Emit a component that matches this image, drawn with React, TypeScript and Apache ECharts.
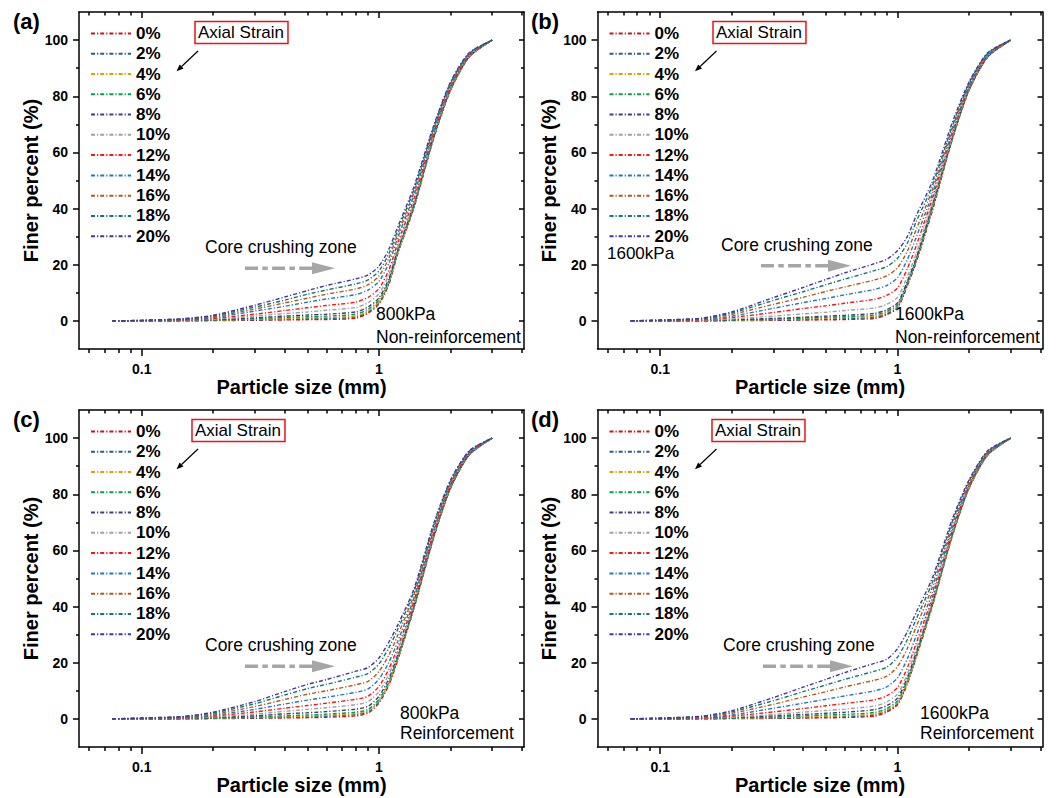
import { useEffect, useRef } from 'react';
import * as echarts from 'echarts';

const FONT = "'Liberation Sans', Arial, sans-serif";

// Particle sizes (mm) at which finer percent is read
const SIZES_MM = [0.075, 0.1, 0.15, 0.2, 0.3, 0.4, 0.5, 0.6, 0.8, 0.9, 1.0, 1.1, 1.2, 1.4, 1.7, 2.0, 2.4, 3.0];

const STRAINS = ['0%', '2%', '4%', '6%', '8%', '10%', '12%', '14%', '16%', '18%', '20%'];
const COLORS = ['#c8141c', '#2a5d8a', '#dca000', '#00a04e', '#3f3f75', '#a0a0a0', '#ff1414', '#1a7cc0', '#b45a16', '#0c7a72', '#4634a4'];

// (a) 800kPa Non-reinforcement
const PANEL_A: number[][] = [
  [0, 0, 0.05, 0.1, 0.25, 0.35, 0.45, 0.5, 1.0, 2.8, 6.0, 13, 24, 40, 65, 82, 94, 100],
  [0, 0, 0.1, 0.2, 0.4, 0.6, 0.8, 0.9, 1.4, 3.2, 6.4, 13.4, 24.3, 40.2, 65.1, 82.1, 94, 100],
  [0, 0, 0.1, 0.2, 0.6, 0.8, 1.1, 1.2, 1.8, 3.6, 6.8, 13.8, 24.6, 40.5, 65.3, 82.2, 94.1, 100],
  [0, 0, 0.1, 0.3, 0.8, 1.2, 1.5, 1.7, 2.4, 4.2, 7.4, 14.3, 25, 40.8, 65.5, 82.3, 94.2, 100],
  [0, 0, 0.2, 0.4, 1.1, 1.7, 2.1, 2.4, 3.2, 5.0, 8.2, 15, 25.5, 41.2, 65.7, 82.5, 94.2, 100],
  [0, 0.1, 0.3, 0.6, 1.7, 2.6, 3.2, 3.8, 4.8, 6.5, 9.7, 16.4, 26.6, 42, 66.2, 82.8, 94.4, 100],
  [0, 0.1, 0.4, 0.9, 2.4, 3.7, 4.7, 5.5, 6.7, 8.4, 11.5, 18.1, 27.9, 43.1, 66.9, 83.2, 94.6, 100],
  [0, 0.1, 0.5, 1.2, 3.5, 5.2, 6.7, 7.8, 9.4, 11, 14.1, 20.5, 29.7, 44.5, 67.7, 83.8, 94.9, 100],
  [0, 0.2, 0.6, 1.5, 4.2, 6.4, 8.1, 9.5, 11.4, 12.9, 16, 22.3, 31, 45.6, 68.3, 84.2, 95.1, 100],
  [0, 0.2, 0.7, 1.8, 4.9, 7.4, 9.5, 11, 13.2, 14.6, 17.8, 23.9, 32.3, 46.5, 68.9, 84.6, 95.3, 100],
  [0, 0.2, 0.8, 2.0, 5.6, 8.5, 10.8, 12.6, 15.0, 16.4, 19.5, 25.5, 33.5, 47.5, 69.5, 85, 95.5, 100],
];

// (b) 1600kPa Non-reinforcement
const PANEL_B: number[][] = [
  [0, 0, 0.05, 0.1, 0.2, 0.3, 0.4, 0.5, 0.9, 2.2, 4.5, 12.5, 21, 39, 64.5, 82, 94, 100],
  [0, 0, 0.1, 0.2, 0.4, 0.5, 0.7, 0.8, 1.3, 2.6, 4.9, 12.9, 21.3, 39.5, 64.6, 82.1, 94, 100],
  [0, 0, 0.1, 0.2, 0.5, 0.8, 1.0, 1.2, 1.7, 3.0, 5.3, 13.2, 21.7, 40, 64.7, 82.1, 94.1, 100],
  [0, 0, 0.1, 0.3, 0.7, 1.0, 1.3, 1.5, 2.1, 3.4, 5.7, 13.6, 22, 40.5, 64.8, 82.2, 94.1, 100],
  [0, 0, 0.1, 0.4, 0.9, 1.3, 1.7, 2.0, 2.7, 4.0, 6.4, 14.1, 22.5, 41, 65, 82.3, 94.1, 100],
  [0, 0.1, 0.2, 0.7, 1.7, 2.5, 3.1, 3.7, 4.6, 5.9, 8.4, 15.8, 24.1, 42, 65.6, 82.6, 94.3, 100],
  [0, 0.1, 0.4, 1.2, 3.0, 4.4, 5.4, 6.3, 7.7, 9.1, 11.7, 18.6, 26.8, 43.5, 66.4, 83, 94.5, 100],
  [0, 0.2, 0.6, 1.7, 4.5, 6.5, 8.0, 9.3, 11.2, 12.6, 15.4, 21.8, 29.8, 45, 67.4, 83.6, 94.8, 100],
  [0, 0.2, 0.7, 2.3, 5.9, 8.4, 10.5, 12.1, 14.6, 16, 18.9, 24.8, 32.6, 46.5, 68.4, 84.1, 95.1, 100],
  [0, 0.3, 0.9, 2.8, 7.3, 10.4, 12.9, 14.9, 17.9, 19.3, 22.3, 27.7, 35.4, 48, 69.3, 84.6, 95.3, 100],
  [0, 0.3, 1.0, 3.2, 8.3, 11.9, 14.8, 17.1, 20.4, 21.9, 25, 30, 37.5, 49.5, 70.5, 85, 95.5, 100],
];

// (c) 800kPa Reinforcement
const PANEL_C: number[][] = [
  [0, 0, 0.05, 0.1, 0.25, 0.35, 0.45, 0.6, 1.1, 2.1, 5.7, 12, 21, 39, 64.5, 82, 94, 100],
  [0, 0, 0.1, 0.2, 0.4, 0.6, 0.8, 1.0, 1.6, 2.6, 6.2, 12.5, 21.4, 39.2, 64.7, 82.1, 94, 100],
  [0, 0, 0.1, 0.2, 0.6, 0.8, 1.0, 1.3, 1.9, 2.9, 6.5, 12.8, 21.6, 39.4, 64.8, 82.2, 94.1, 100],
  [0, 0, 0.1, 0.3, 0.7, 1.1, 1.4, 1.7, 2.4, 3.4, 7.0, 13.2, 22, 39.6, 64.9, 82.2, 94.1, 100],
  [0, 0, 0.2, 0.5, 1.1, 1.8, 2.2, 2.6, 3.5, 4.5, 8.1, 14.3, 22.9, 40.1, 65.3, 82.5, 94.2, 100],
  [0, 0.1, 0.3, 0.7, 1.7, 2.7, 3.4, 4.0, 5.1, 6.2, 9.7, 15.8, 24.1, 40.8, 65.8, 82.8, 94.4, 100],
  [0, 0.1, 0.4, 1.0, 2.5, 3.8, 4.8, 5.6, 7.0, 8.1, 11.6, 17.7, 25.6, 41.6, 66.4, 83.1, 94.6, 100],
  [0, 0.2, 0.5, 1.3, 3.4, 5.3, 6.7, 7.7, 9.5, 10.7, 14.2, 20.1, 27.6, 42.7, 67.2, 83.6, 94.8, 100],
  [0, 0.2, 0.7, 1.7, 4.4, 6.9, 8.8, 10, 12.2, 13.4, 16.9, 22.7, 29.8, 43.9, 68, 84.1, 95.1, 100],
  [0, 0.3, 0.8, 2.1, 5.4, 8.5, 10.8, 12.3, 14.9, 16.2, 19.6, 25.3, 31.9, 45.1, 68.9, 84.6, 95.3, 100],
  [0, 0.3, 0.9, 2.4, 6.2, 9.7, 12.3, 14.0, 17.0, 18.3, 21.7, 27.3, 33.5, 46, 69.5, 85, 95.5, 100],
];

// (d) 1600kPa Reinforcement
const PANEL_D: number[][] = [
  [0, 0, 0.05, 0.1, 0.2, 0.3, 0.4, 0.5, 1.0, 2.4, 5.0, 12.5, 22, 40, 65, 82, 94, 100],
  [0, 0, 0.1, 0.2, 0.4, 0.5, 0.7, 0.8, 1.4, 2.8, 5.4, 12.9, 22.3, 40.2, 65.1, 82.1, 94, 100],
  [0, 0, 0.1, 0.2, 0.5, 0.7, 1.0, 1.1, 1.8, 3.2, 5.8, 13.2, 22.6, 40.4, 65.2, 82.1, 94.1, 100],
  [0, 0, 0.1, 0.3, 0.7, 1.1, 1.4, 1.6, 2.3, 3.7, 6.4, 13.8, 23.1, 40.7, 65.4, 82.2, 94.1, 100],
  [0, 0, 0.2, 0.4, 1.1, 1.6, 2.0, 2.4, 3.3, 4.7, 7.4, 14.7, 23.9, 41.2, 65.7, 82.4, 94.2, 100],
  [0, 0.1, 0.2, 0.6, 1.6, 2.4, 3.0, 3.5, 4.6, 6.0, 8.8, 16, 25, 41.9, 66.1, 82.6, 94.3, 100],
  [0, 0.1, 0.3, 1.0, 2.5, 3.7, 4.7, 5.5, 6.8, 8.2, 11.2, 18.2, 27, 43.1, 66.9, 82.9, 94.5, 100],
  [0, 0.1, 0.5, 1.4, 3.8, 5.6, 7.0, 8.2, 10, 11.4, 14.6, 21.4, 29.7, 44.8, 67.9, 83.4, 94.7, 100],
  [0, 0.2, 0.7, 2.0, 5.2, 7.8, 9.7, 11.4, 13.8, 15.2, 18.6, 25.1, 32.9, 46.8, 69.1, 84, 95, 100],
  [0, 0.3, 0.9, 2.5, 6.5, 9.7, 12.1, 14.1, 17, 18.4, 22, 28.2, 35.6, 48.5, 70.1, 84.6, 95.3, 100],
  [0, 0.3, 1.0, 2.9, 7.6, 11.3, 14.1, 16.5, 19.8, 21.2, 25, 31, 38, 50, 71, 85, 95.5, 100],
];

const PANELS = [PANEL_A, PANEL_B, PANEL_C, PANEL_D];
const PANEL_TAGS = ['(a)', '(b)', '(c)', '(d)'];
const PRESSURES = ['800kPa', '1600kPa', '800kPa', '1600kPa'];
const CONDITIONS = ['Non-reinforcement', 'Non-reinforcement', 'Reinforcement', 'Reinforcement'];

const X_MIN_MM = 0.0544;
const X_MAX_MM = 4.085;
const X_MAJOR_MM = [0.1, 1];
const X_MINOR_MM = [0.06, 0.07, 0.08, 0.09, 0.2, 0.3, 0.4, 0.5, 0.6, 0.7, 0.8, 0.9, 2, 3, 4];
const Y_MAJOR = [0, 20, 40, 60, 80, 100];
const Y_MINOR = [10, 30, 50, 70, 90];

// layout
const OFFSETS = [[0, 0], [518.5, 0], [0, 398], [518.5, 398]];
const GRID_W = 445;
const GRID_H = 337;

const lg = (v: number) => Math.log10(v);

function buildOption() {
  const grid: any[] = [];
  const xAxis: any[] = [];
  const yAxis: any[] = [];
  const series: any[] = [];
  const legend: any[] = [];
  const graphic: any[] = [];

  const lineStyle = { color: '#000', width: 1.5 };
  const xBase = { type: 'value', min: lg(X_MIN_MM), max: lg(X_MAX_MM), splitLine: { show: false } };
  const yBase = { type: 'value', min: -10, max: 110, splitLine: { show: false } };

  PANELS.forEach((rows, p) => {
    const [ox, oy] = OFFSETS[p];
    grid.push({ left: 79 + ox, top: 12 + oy, width: GRID_W, height: GRID_H, containLabel: false });
    const xi = xAxis.length;
    const yi = yAxis.length;
    xAxis.push(
      {
        ...xBase, gridIndex: p, position: 'bottom',
        axisLine: { show: true, onZero: false, lineStyle },
        axisTick: { show: true, customValues: X_MAJOR_MM.map(lg), length: 7, lineStyle },
        axisLabel: {
          customValues: X_MAJOR_MM.map(lg), margin: 13, color: '#000', fontFamily: FONT, fontSize: 14, fontWeight: 'bold',
          formatter: (v: number) => String(Number(Math.pow(10, v).toPrecision(3))),
        },
        name: 'Particle size (mm)', nameLocation: 'middle', nameGap: 27,
        nameTextStyle: { color: '#000', fontFamily: FONT, fontSize: 20, fontWeight: 'bold' },
      },
      {
        ...xBase, gridIndex: p, position: 'bottom',
        axisLine: { show: false, onZero: false },
        axisTick: { show: true, customValues: X_MINOR_MM.map(lg), length: 4, lineStyle },
        axisLabel: { show: false },
      },
      {
        ...xBase, gridIndex: p, position: 'top',
        axisLine: { show: true, onZero: false, lineStyle },
        axisTick: { show: true, inside: true, customValues: X_MAJOR_MM.map(lg), length: 6, lineStyle },
        axisLabel: { show: false },
      },
      {
        ...xBase, gridIndex: p, position: 'top',
        axisLine: { show: false, onZero: false },
        axisTick: { show: true, inside: true, customValues: X_MINOR_MM.map(lg), length: 3.5, lineStyle },
        axisLabel: { show: false },
      },
    );
    yAxis.push(
      {
        ...yBase, gridIndex: p, position: 'left',
        axisLine: { show: true, onZero: false, lineStyle },
        axisTick: { show: true, customValues: Y_MAJOR, length: 6, lineStyle },
        axisLabel: { customValues: Y_MAJOR, margin: 11, color: '#000', fontFamily: FONT, fontSize: 14, fontWeight: 'bold' },
        name: 'Finer percent (%)', nameLocation: 'middle', nameGap: 31,
        nameTextStyle: { color: '#000', fontFamily: FONT, fontSize: 20, fontWeight: 'bold' },
      },
      {
        ...yBase, gridIndex: p, position: 'left',
        axisLine: { show: false, onZero: false },
        axisTick: { show: true, customValues: Y_MINOR, length: 3, lineStyle },
        axisLabel: { show: false },
      },
      {
        ...yBase, gridIndex: p, position: 'right',
        axisLine: { show: true, onZero: false, lineStyle },
        axisTick: { show: true, inside: true, customValues: Y_MAJOR, length: 5, lineStyle },
        axisLabel: { show: false },
      },
      {
        ...yBase, gridIndex: p, position: 'right',
        axisLine: { show: false, onZero: false },
        axisTick: { show: true, inside: true, customValues: Y_MINOR, length: 3, lineStyle },
        axisLabel: { show: false },
      },
    );

    rows.forEach((vals, i) => {
      series.push({
        type: 'line',
        name: STRAINS[i],
        xAxisIndex: xi,
        yAxisIndex: yi,
        symbol: 'none',
        smooth: 0.25,
        data: SIZES_MM.map((d, k) => [lg(d), vals[k]]),
        itemStyle: { color: COLORS[i] },
        lineStyle: { color: COLORS[i], width: 1.4, type: [4, 2, 1.2, 2] },
        z: 2 + i,
      });
    });

    legend.push({
      orient: 'vertical', left: 90 + ox, top: 25 + oy, padding: 0,
      itemWidth: 40, itemHeight: 14, itemGap: 3.27, selectedMode: false,
      itemStyle: { opacity: 0, color: 'rgba(0,0,0,0)', borderWidth: 0 },
      textStyle: { color: '#000', fontFamily: FONT, fontSize: 17, fontWeight: 'bold' },
      data: STRAINS,
    });

    // annotations
    const tagX = p % 2 === 0 ? 13 : 531;
    const tagY = p < 2 ? 21 : 419;
    graphic.push({
      type: 'text', x: tagX, y: tagY,
      style: { text: PANEL_TAGS[p], x: 0, y: 0, fill: '#000', font: `bold 22px ${FONT}`, textVerticalAlign: 'middle', verticalAlign: 'middle' },
    });

    const boxX = [195, 713, 192, 712][p];
    graphic.push({
      type: 'text', x: boxX, y: 32.5 + oy,
      style: {
        text: 'Axial Strain', x: 0, y: 0, fill: '#000', font: `17px ${FONT}`,
        textVerticalAlign: 'middle', verticalAlign: 'middle',
        borderColor: '#e8141c', borderWidth: 1.5, padding: [3, 4, 2, 3],
      },
    });
    // small black arrow
    const ax1 = 198 + ox, ay1 = 51 + oy, ax2 = 176.5 + ox, ay2 = 71.3 + oy;
    const dx = ax2 - ax1, dy = ay2 - ay1, len = Math.hypot(dx, dy);
    const ux = dx / len, uy = dy / len;
    const bx = ax2 - ux * 7, by = ay2 - uy * 7;
    graphic.push({ type: 'line', shape: { x1: ax1, y1: ay1, x2: bx, y2: by }, style: { stroke: '#000', lineWidth: 1.2 } });
    graphic.push({
      type: 'polygon',
      shape: { points: [[ax2, ay2], [bx - uy * 2.8, by + ux * 2.8], [bx + uy * 2.8, by - ux * 2.8]] },
      style: { fill: '#000' },
    });

    // core crushing zone
    const czX = [205, 721, 205, 723][p];
    const czY = [247, 245, 645.3, 645][p];
    graphic.push({
      type: 'text', x: czX, y: czY,
      style: { text: 'Core crushing zone', x: 0, y: 0, fill: '#000', font: `17.5px ${FONT}`, textVerticalAlign: 'middle', verticalAlign: 'middle' },
    });
    const gaX = [245, 761, 245, 763][p];
    const gaY = [268.3, 265.7, 666.3, 666.3][p];
    graphic.push({
      type: 'line', shape: { x1: gaX, y1: gaY, x2: gaX + 68, y2: gaY },
      style: { stroke: '#a6a6a6', lineWidth: 3.5, lineDash: [13, 4.3, 5.5, 4.3] },
    });
    graphic.push({
      type: 'polygon',
      shape: { points: [[gaX + 67, gaY - 6], [gaX + 90, gaY], [gaX + 67, gaY + 6]] },
      style: { fill: '#a6a6a6' },
    });

    // pressure / condition labels
    const plX = [376, 895, 400, 920][p];
    const plY1 = [314.3, 314.3, 712.7, 712.7][p];
    const plY2 = [336.7, 336.7, 733.3, 733.3][p];
    graphic.push({
      type: 'text', x: plX, y: plY1,
      style: { text: PRESSURES[p], x: 0, y: 0, fill: '#000', font: `17.5px ${FONT}`, textVerticalAlign: 'middle', verticalAlign: 'middle' },
    });
    graphic.push({
      type: 'text', x: plX, y: plY2,
      style: { text: CONDITIONS[p], x: 0, y: 0, fill: '#000', font: `17.5px ${FONT}`, textVerticalAlign: 'middle', verticalAlign: 'middle' },
    });
    if (p === 1) {
      graphic.push({
        type: 'text', x: 607, y: 253.3,
        style: { text: '1600kPa', x: 0, y: 0, fill: '#000', font: `17px ${FONT}`, textVerticalAlign: 'middle', verticalAlign: 'middle' },
      });
    }
  });

  return {
    animation: false,
    backgroundColor: '#fff',
    textStyle: { fontFamily: FONT },
    grid, xAxis, yAxis, series, legend,
    graphic: { elements: graphic },
  };
}

export default function App() {
  const ref = useRef<HTMLDivElement>(null);
  useEffect(() => {
    if (!ref.current) return;
    const chart = echarts.init(ref.current, undefined, { renderer: 'svg' });
    chart.setOption(buildOption() as any);
    return () => chart.dispose();
  }, []);
  return <div ref={ref} style={{ position: 'absolute', left: 0, top: 0, width: 1056, height: 798 }} />;
}
